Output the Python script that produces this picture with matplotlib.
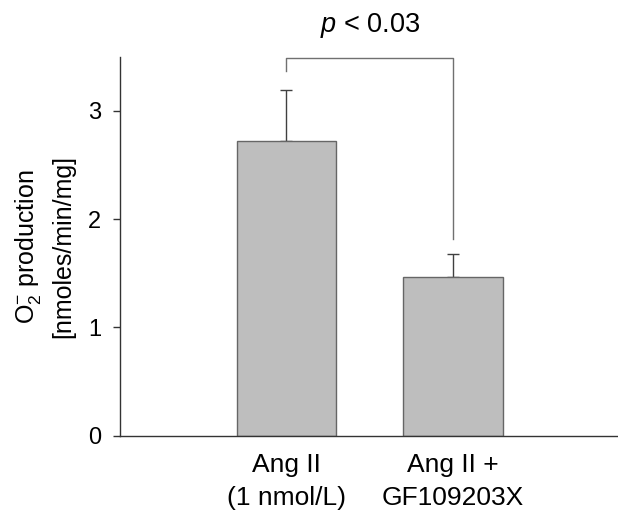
import numpy as np
import matplotlib
matplotlib.use("Agg")
import matplotlib.pyplot as plt

labels = ["Ang II\n(1 nmol/L)", "Ang II +\nGF109203X"]
values = [2.72, 1.47]
errors = [0.47, 0.21]
p_text = r"$p$ < 0.03"
bracket_y = 3.49
bracket_left_end = 3.37
bracket_right_end = 1.82

plt.rcParams["font.family"] = ["Liberation Sans", "DejaVu Sans"]
plt.rcParams["mathtext.fontset"] = "custom"
plt.rcParams["mathtext.rm"] = "Liberation Sans"
plt.rcParams["mathtext.it"] = "Liberation Sans:italic"

fig = plt.figure(figsize=(6.18, 5.14), dpi=100)
ax = fig.add_axes([0.194, 0.152, 0.806, 0.738])

x = np.arange(len(values))
ax.bar(x, values, width=0.6, color="#bebebe", edgecolor="#666666", linewidth=1.0, zorder=2)
ax.errorbar(x, values, yerr=[np.zeros(len(errors)), errors], fmt="none",
            ecolor="#404040", elinewidth=1.0, capsize=4, capthick=1.0, zorder=1)

# significance bracket
ax.plot([x[0], x[0], x[1], x[1]],
        [bracket_left_end, bracket_y, bracket_y, bracket_right_end],
        color="#707070", linewidth=1.0, clip_on=False)
ax.text((x[0] + x[1]) / 2, 3.785, p_text, ha="center", va="center", fontsize=19.5, clip_on=False)

ax.set_xlim(-1.0, 1.99)
ax.set_ylim(0, 3.5)
ax.set_yticks([0, 1, 2, 3])
ax.set_xticks(x)
ax.set_xticklabels(labels, fontsize=19, linespacing=1.45)
ax.tick_params(axis="x", length=0, pad=12.5)
ax.tick_params(axis="y", length=5, width=1.0, color="#333333", labelsize=17, pad=8.5)

for s in ["top", "right"]:
    ax.spines[s].set_visible(False)
for s in ["left", "bottom"]:
    ax.spines[s].set_color("#333333")
    ax.spines[s].set_linewidth(1.0)

ax.set_ylabel("O$_2^{-}$ production\n[nmoles/min/mg]", fontsize=18, linespacing=1.45, labelpad=9)

fig.savefig("out.png", dpi=100)
